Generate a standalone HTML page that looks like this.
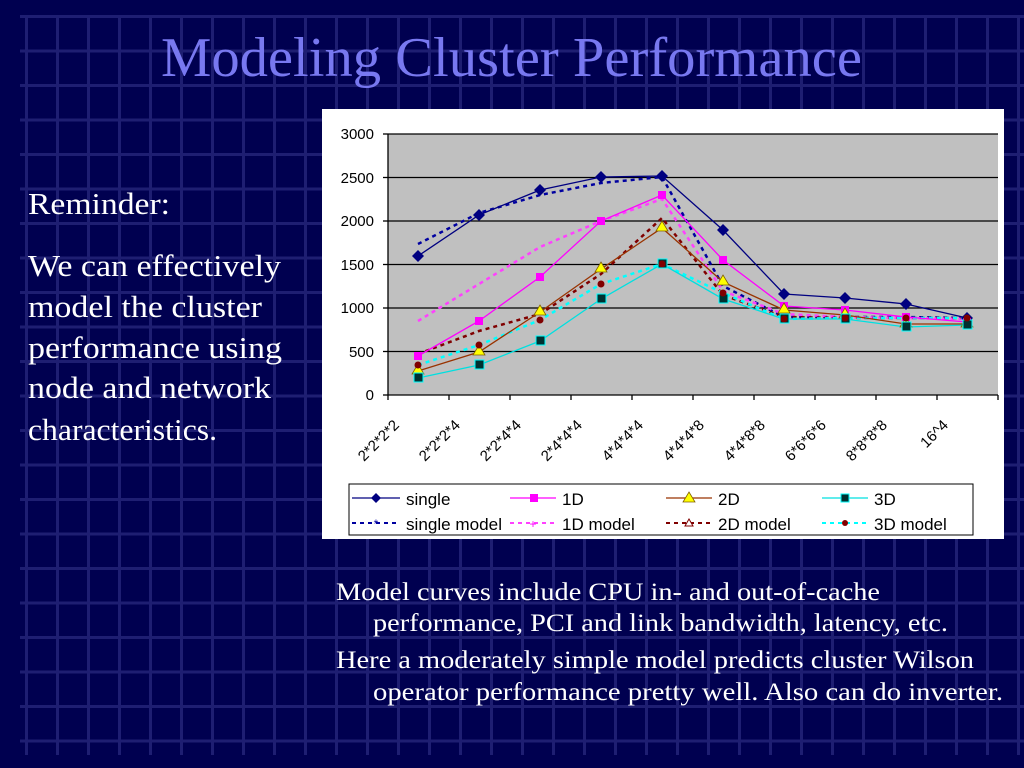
<!DOCTYPE html>
<html><head><meta charset="utf-8"><style>
html,body{margin:0;padding:0;background:#000052;}
svg{display:block}
</style></head><body>
<svg width="1024" height="768" xmlns="http://www.w3.org/2000/svg">
<defs>
<pattern id="g" x="25" y="15" width="31" height="34.5" patternUnits="userSpaceOnUse">
<rect x="0" y="0" width="3" height="34.5" fill="#1e1e72"/>
<rect x="0" y="0" width="31" height="3" fill="#1e1e72"/>
</pattern>
</defs>
<rect width="1024" height="768" fill="#000050"/>
<rect x="20" y="15" width="1004" height="740" fill="url(#g)"/>
<text x="161" y="76" textLength="701" lengthAdjust="spacingAndGlyphs" font-family="Liberation Serif,serif" font-size="56" fill="#7878f0">Modeling Cluster Performance</text>
<g font-family="Liberation Serif,serif" font-size="31" fill="#fff">
<text x="28" y="214" textLength="142" lengthAdjust="spacingAndGlyphs">Reminder:</text>
<text x="28" y="276" textLength="253" lengthAdjust="spacingAndGlyphs">We can effectively</text>
<text x="28" y="317" textLength="234" lengthAdjust="spacingAndGlyphs">model the cluster</text>
<text x="28" y="358" textLength="254" lengthAdjust="spacingAndGlyphs">performance using</text>
<text x="28" y="398" textLength="243" lengthAdjust="spacingAndGlyphs">node and network</text>
<text x="28" y="440" textLength="189" lengthAdjust="spacingAndGlyphs">characteristics.</text>
</g>
<g font-family="Liberation Serif,serif" font-size="25" fill="#fff">
<text x="336" y="600" textLength="544" lengthAdjust="spacingAndGlyphs">Model curves include CPU in- and out-of-cache</text>
<text x="373" y="631" textLength="575" lengthAdjust="spacingAndGlyphs">performance, PCI and link bandwidth, latency, etc.</text>
<text x="336" y="668" textLength="638" lengthAdjust="spacingAndGlyphs">Here a moderately simple model predicts cluster Wilson</text>
<text x="373" y="700" textLength="630" lengthAdjust="spacingAndGlyphs">operator performance pretty well.  Also can do inverter.</text>
</g>
<rect x="322" y="109" width="682" height="430" fill="#fff"/>
<rect x="388" y="134" width="610" height="261" fill="#c0c0c0"/>
<g stroke="#000" stroke-width="1.3">
<line x1="388" y1="134" x2="998" y2="134"/>
<line x1="388" y1="177.5" x2="998" y2="177.5"/>
<line x1="388" y1="221" x2="998" y2="221"/>
<line x1="388" y1="264.5" x2="998" y2="264.5"/>
<line x1="388" y1="308" x2="998" y2="308"/>
<line x1="388" y1="351.5" x2="998" y2="351.5"/>
<line x1="388" y1="395" x2="998" y2="395"/>
<line x1="388" y1="134" x2="388" y2="395"/>
<line x1="383" y1="134" x2="388" y2="134"/><line x1="383" y1="177.5" x2="388" y2="177.5"/><line x1="383" y1="221" x2="388" y2="221"/><line x1="383" y1="264.5" x2="388" y2="264.5"/><line x1="383" y1="308" x2="388" y2="308"/><line x1="383" y1="351.5" x2="388" y2="351.5"/><line x1="383" y1="395" x2="388" y2="395"/>
<line x1="388" y1="395" x2="388" y2="400"/><line x1="449" y1="395" x2="449" y2="400"/><line x1="510" y1="395" x2="510" y2="400"/><line x1="571" y1="395" x2="571" y2="400"/><line x1="632" y1="395" x2="632" y2="400"/><line x1="693" y1="395" x2="693" y2="400"/><line x1="754" y1="395" x2="754" y2="400"/><line x1="815" y1="395" x2="815" y2="400"/><line x1="876" y1="395" x2="876" y2="400"/><line x1="937" y1="395" x2="937" y2="400"/><line x1="998" y1="395" x2="998" y2="400"/>
</g>
<g font-family="Liberation Sans,sans-serif" font-size="15" fill="#000" text-anchor="end">
<text x="374" y="139">3000</text><text x="374" y="183">2500</text><text x="374" y="226">2000</text><text x="374" y="270">1500</text><text x="374" y="313">1000</text><text x="374" y="357">500</text><text x="374" y="400">0</text>
</g>
<g font-family="Liberation Sans,sans-serif" font-size="15" fill="#000" text-anchor="end">
<text transform="translate(400,426) rotate(-45)">2*2*2*2</text>
<text transform="translate(461,426) rotate(-45)">2*2*2*4</text>
<text transform="translate(522,426) rotate(-45)">2*2*4*4</text>
<text transform="translate(583,426) rotate(-45)">2*4*4*4</text>
<text transform="translate(644,426) rotate(-45)">4*4*4*4</text>
<text transform="translate(705,426) rotate(-45)">4*4*4*8</text>
<text transform="translate(766,426) rotate(-45)">4*4*8*8</text>
<text transform="translate(827,426) rotate(-45)">6*6*6*6</text>
<text transform="translate(888,426) rotate(-45)">8*8*8*8</text>
<text transform="translate(949,426) rotate(-45)">16^4</text>
</g>
<g fill="none" stroke-width="1.3">
<polyline stroke="#0000a0" stroke-width="2.5" stroke-dasharray="4,4" points="418,244 479,213 540,195 601,183 662,177 723,286 784,317 845,317 906,317 967,318"/>
<polyline stroke="#ff40ff" stroke-width="2.5" stroke-dasharray="4,4" points="418,321 479,284 540,247 601,221 662,199 723,291 784,314 845,317 906,318 967,319"/>
<polyline stroke="#800000" stroke-width="2.5" stroke-dasharray="4,4" points="418,354 479,331 540,314 601,274 662,218 723,295 784,317 845,318 906,318 967,318"/>
<polyline stroke="#00ffff" stroke-width="2.5" stroke-dasharray="4,4" points="418,365 479,345 540,320 601,284 662,264 723,293 784,319 845,318 906,318 967,318"/>
<polyline stroke="#000080" points="418,256 479,215 540,190 601,177 662,176 723,230 784,294 845,298 906,304 967,318"/>
<polyline stroke="#ff00ff" points="418,356 479,321 540,277 601,221 662,195 723,260 784,306 845,310 906,317 967,322"/>
<polyline stroke="#993300" points="418,371 479,352 540,312 601,269 662,228 723,282 784,310 845,315 906,324 967,324"/>
<polyline stroke="#00e0e0" points="418,378 479,365 540,341 601,299 662,264 723,299 784,319 845,319 906,327 967,325"/>
</g>
<g fill="#000080">
<path d="M418,250l6,6-6,6-6-6z"/><path d="M479,209l6,6-6,6-6-6z"/><path d="M540,184l6,6-6,6-6-6z"/><path d="M601,171l6,6-6,6-6-6z"/><path d="M662,170l6,6-6,6-6-6z"/><path d="M723,224l6,6-6,6-6-6z"/><path d="M784,288l6,6-6,6-6-6z"/><path d="M845,292l6,6-6,6-6-6z"/><path d="M906,298l6,6-6,6-6-6z"/><path d="M967,312l6,6-6,6-6-6z"/>
</g>
<g fill="#ff00ff">
<rect x="414" y="352" width="8" height="8"/><rect x="475" y="317" width="8" height="8"/><rect x="536" y="273" width="8" height="8"/><rect x="597" y="217" width="8" height="8"/><rect x="658" y="191" width="8" height="8"/><rect x="719" y="256" width="8" height="8"/><rect x="780" y="302" width="8" height="8"/><rect x="841" y="306" width="8" height="8"/><rect x="902" y="313" width="8" height="8"/><rect x="963" y="318" width="8" height="8"/>
</g>
<g fill="#ffff00" stroke="#806000" stroke-width="0.8">
<path d="M418,364l6,10h-12z"/><path d="M479,345l6,10h-12z"/><path d="M540,305l6,10h-12z"/><path d="M601,262l6,10h-12z"/><path d="M662,221l6,10h-12z"/><path d="M723,275l6,10h-12z"/><path d="M784,303l6,10h-12z"/><path d="M845,308l6,10h-12z"/><path d="M906,317l6,10h-12z"/><path d="M967,317l6,10h-12z"/>
</g>
<g fill="#003030" stroke="#00ffff" stroke-width="1">
<rect x="414" y="373" width="9" height="9"/><rect x="475" y="360" width="9" height="9"/><rect x="536" y="336" width="9" height="9"/><rect x="597" y="294" width="9" height="9"/><rect x="658" y="259" width="9" height="9"/><rect x="719" y="294" width="9" height="9"/><rect x="780" y="314" width="9" height="9"/><rect x="841" y="314" width="9" height="9"/><rect x="902" y="322" width="9" height="9"/><rect x="963" y="320" width="9" height="9"/>
</g>
<g fill="#800000">
<circle cx="418" cy="365" r="3.5"/><circle cx="479" cy="345" r="3.5"/><circle cx="540" cy="320" r="3.5"/><circle cx="601" cy="284" r="3.5"/><circle cx="662" cy="264" r="3.5"/><circle cx="723" cy="293" r="3.5"/><circle cx="784" cy="319" r="3.5"/><circle cx="845" cy="318" r="3.5"/><circle cx="906" cy="318" r="3.5"/><circle cx="967" cy="318" r="3.5"/>
</g>
<rect x="349" y="484" width="624" height="51" fill="#fff" stroke="#000" stroke-width="1"/>
<g stroke-width="1.3" fill="none">
<line x1="352" y1="498" x2="400" y2="498" stroke="#000080"/>
<line x1="510" y1="498" x2="556" y2="498" stroke="#ff00ff"/>
<line x1="666" y1="498" x2="712" y2="498" stroke="#993300"/>
<line x1="822" y1="498" x2="868" y2="498" stroke="#00e0e0"/>
<line x1="352" y1="523" x2="400" y2="523" stroke="#0000a0" stroke-width="2" stroke-dasharray="4,4"/>
<line x1="510" y1="523" x2="556" y2="523" stroke="#ff40ff" stroke-width="2" stroke-dasharray="4,4"/>
<line x1="666" y1="523" x2="712" y2="523" stroke="#800000" stroke-width="2" stroke-dasharray="4,4"/>
<line x1="822" y1="523" x2="868" y2="523" stroke="#00ffff" stroke-width="2" stroke-dasharray="4,4"/>
</g>
<path d="M376,493l5,5-5,5-5-5z" fill="#000080"/>
<rect x="530" y="494" width="8" height="8" fill="#ff00ff"/>
<path d="M689,492l6,10h-12z" fill="#ffff00" stroke="#806000" stroke-width="0.8"/>
<rect x="841" y="494" width="8" height="8" fill="#003030" stroke="#00ffff"/>
<text x="376" y="528" text-anchor="middle" font-family="Liberation Sans,sans-serif" font-size="12" fill="#0000a0">*</text>
<text x="533" y="528" text-anchor="middle" font-family="Liberation Sans,sans-serif" font-size="12" fill="#ff00ff">+</text>
<path d="M689,519l4,7h-8z" fill="#fff" stroke="#800000"/>
<circle cx="845" cy="523" r="3" fill="#800000"/>
<g font-family="Liberation Sans,sans-serif" font-size="17" fill="#000">
<text x="406" y="505">single</text><text x="562" y="505">1D</text><text x="718" y="505">2D</text><text x="874" y="505">3D</text>
<text x="406" y="530" textLength="96" lengthAdjust="spacingAndGlyphs">single model</text><text x="562" y="530">1D model</text><text x="718" y="530">2D model</text><text x="874" y="530">3D model</text>
</g>
</svg>
</body></html>
